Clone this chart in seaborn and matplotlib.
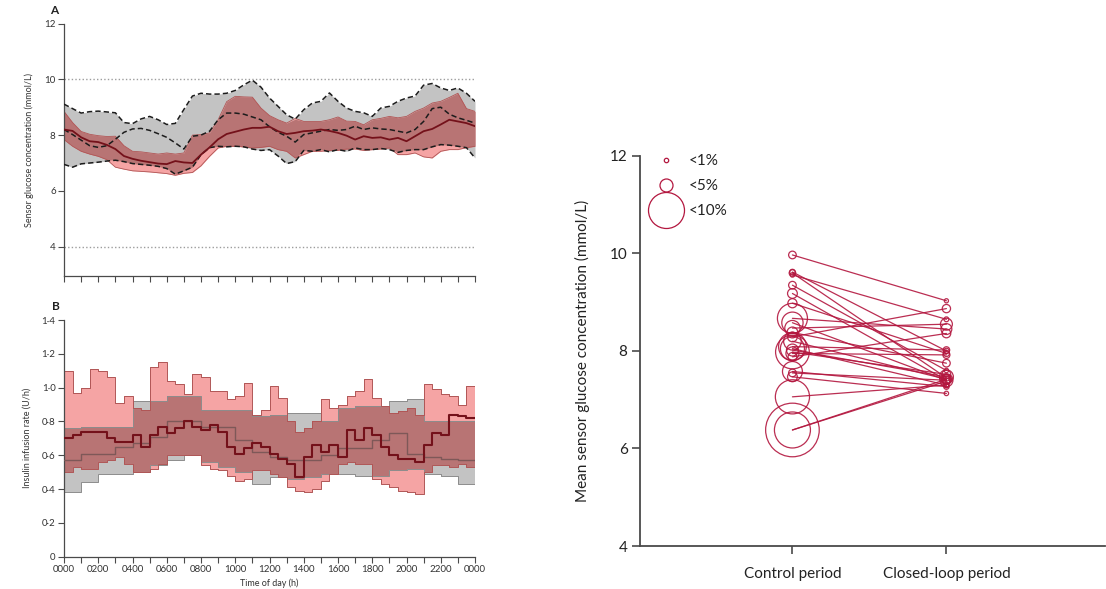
import numpy as np
import pandas as pd
import matplotlib
matplotlib.use("Agg")
import matplotlib.pyplot as plt
from matplotlib.lines import Line2D
import seaborn as sns

sns.set_theme(style="ticks")
plt.rcParams["font.family"] = ["Lato", "DejaVu Sans"]

# ---------------- Panel A: sensor glucose (mmol/L), 30-min grid ----------------
glucose_hours = np.arange(0, 24.5, 0.5)
ctrl_glu_upper = [9.11, 8.95, 8.79, 8.84, 8.86, 8.83, 8.80, 8.45, 8.41, 8.58, 8.67, 8.55, 8.38,
                  8.42, 8.92, 9.40, 9.50, 9.47, 9.47, 9.50, 9.60, 9.80, 9.97, 9.72, 9.33, 9.03,
                  8.73, 8.57, 8.91, 9.15, 9.21, 9.51, 9.21, 8.97, 8.85, 8.80, 8.67, 8.97, 9.03,
                  9.21, 9.33, 9.40, 9.79, 9.85, 9.69, 9.60, 9.69, 9.50, 9.21]
ctrl_glu_lower = [6.95, 6.85, 6.97, 7.00, 7.03, 7.07, 7.10, 7.05, 6.98, 6.95, 6.92, 6.88, 6.80,
                  6.60, 6.72, 6.85, 7.30, 7.55, 7.60, 7.58, 7.60, 7.58, 7.50, 7.45, 7.48, 7.25,
                  6.98, 7.05, 7.45, 7.42, 7.48, 7.40, 7.48, 7.42, 7.54, 7.48, 7.48, 7.52, 7.48,
                  7.38, 7.45, 7.48, 7.48, 7.58, 7.66, 7.64, 7.60, 7.55, 7.18]
ctrl_glu_median = [8.20, 8.02, 7.82, 7.62, 7.56, 7.62, 7.85, 8.10, 8.22, 8.24, 8.17, 8.05, 7.92,
                   7.72, 7.50, 7.96, 8.00, 8.14, 8.55, 8.79, 8.79, 8.75, 8.65, 8.55, 8.30, 8.10,
                   7.96, 7.75, 8.02, 8.08, 8.14, 8.20, 8.17, 8.20, 8.32, 8.20, 8.26, 8.22, 8.20,
                   8.14, 8.08, 8.20, 8.49, 8.95, 9.00, 8.75, 8.62, 8.53, 8.43]
cl_glu_upper = [8.85, 8.45, 8.13, 8.03, 7.98, 7.95, 7.96, 7.62, 7.42, 7.40, 7.36, 7.32, 7.36,
                7.32, 7.36, 8.00, 8.02, 8.08, 8.55, 9.20, 9.39, 9.37, 9.36, 8.97, 8.70, 8.55,
                8.43, 8.60, 8.49, 8.49, 8.49, 8.55, 8.65, 8.50, 8.49, 8.37, 8.55, 8.60, 8.67,
                8.62, 8.67, 8.85, 8.97, 9.15, 9.21, 9.35, 9.50, 8.95, 8.85]
cl_glu_lower = [7.84, 7.60, 7.42, 7.32, 7.24, 7.12, 6.85, 6.78, 6.72, 6.70, 6.68, 6.65, 6.62,
                6.56, 6.63, 6.66, 6.90, 7.24, 7.54, 7.60, 7.60, 7.58, 7.54, 7.56, 7.60, 7.48,
                7.42, 7.18, 7.30, 7.42, 7.42, 7.45, 7.45, 7.50, 7.50, 7.45, 7.48, 7.50, 7.54,
                7.30, 7.30, 7.36, 7.22, 7.18, 7.42, 7.48, 7.48, 7.55, 7.60]
cl_glu_median = [8.20, 8.15, 7.92, 7.78, 7.75, 7.65, 7.50, 7.25, 7.15, 7.08, 7.03, 6.98, 6.96,
                 7.07, 7.02, 7.00, 7.30, 7.56, 7.85, 8.04, 8.12, 8.20, 8.26, 8.26, 8.30, 8.14,
                 8.04, 8.08, 8.14, 8.16, 8.20, 8.15, 8.08, 7.98, 7.84, 7.96, 7.90, 7.92, 7.84,
                 7.90, 7.78, 7.96, 8.14, 8.22, 8.38, 8.55, 8.49, 8.43, 8.32]
target_range = [4, 10]
glucose_ticks = [4, 6, 8, 10, 12]

# ---------------- Panel B: insulin infusion rate (U/h) ----------------
insulin_ctrl_hours = np.arange(0, 24, 1.0)       # hourly pump basal bins
ctrl_ins_upper = [0.76, 0.77, 0.77, 0.77, 0.92, 0.92, 0.95, 0.95, 0.87, 0.87, 0.87, 0.83,
                  0.84, 0.85, 0.85, 0.80, 0.88, 0.89, 0.89, 0.92, 0.93, 0.80, 0.80, 0.80]
ctrl_ins_lower = [0.38, 0.44, 0.49, 0.49, 0.50, 0.54, 0.57, 0.60, 0.56, 0.53, 0.50, 0.43,
                  0.47, 0.46, 0.47, 0.49, 0.49, 0.48, 0.48, 0.51, 0.52, 0.49, 0.48, 0.43]
ctrl_ins_median = [0.57, 0.61, 0.61, 0.65, 0.67, 0.71, 0.80, 0.80, 0.77, 0.77, 0.69, 0.62,
                   0.59, 0.57, 0.57, 0.60, 0.64, 0.64, 0.69, 0.73, 0.61, 0.59, 0.58, 0.57]
insulin_cl_hours = np.arange(0, 24, 0.5)         # 30-min closed-loop bins
cl_ins_upper = [1.10, 0.97, 1.00, 1.11, 1.10, 1.06, 0.91, 0.95, 0.88, 0.87,
                1.12, 1.15, 1.04, 1.02, 0.96, 1.08, 1.06, 0.98, 0.98, 0.93,
                0.95, 1.03, 0.84, 0.87, 1.01, 0.94, 0.80, 0.74, 0.76, 0.80,
                0.93, 0.88, 0.90, 0.95, 0.98, 1.05, 0.94, 0.89, 0.85, 0.86,
                0.88, 0.84, 1.02, 0.99, 0.96, 0.95, 0.90, 1.01]
cl_ins_lower = [0.50, 0.53, 0.52, 0.52, 0.56, 0.57, 0.59, 0.55, 0.50, 0.50,
                0.52, 0.55, 0.60, 0.60, 0.60, 0.60, 0.54, 0.52, 0.51, 0.48,
                0.45, 0.46, 0.51, 0.51, 0.49, 0.47, 0.41, 0.39, 0.38, 0.40,
                0.45, 0.49, 0.55, 0.56, 0.55, 0.55, 0.46, 0.43, 0.41, 0.39,
                0.38, 0.37, 0.50, 0.54, 0.54, 0.53, 0.55, 0.53]
cl_ins_median = [0.70, 0.72, 0.74, 0.74, 0.74, 0.70, 0.68, 0.68, 0.72, 0.65,
                 0.72, 0.77, 0.73, 0.76, 0.80, 0.77, 0.75, 0.78, 0.74, 0.65,
                 0.61, 0.64, 0.67, 0.65, 0.61, 0.58, 0.55, 0.47, 0.59, 0.66,
                 0.62, 0.66, 0.59, 0.75, 0.69, 0.76, 0.72, 0.65, 0.60, 0.58,
                 0.58, 0.56, 0.66, 0.73, 0.72, 0.84, 0.83, 0.82]
insulin_ticks = [0, 0.2, 0.4, 0.6, 0.8, 1.0, 1.2, 1.4]
insulin_tick_labels = ["0", "0·2", "0·4", "0·6", "0·8", "1·0", "1·2", "1·4"]
hour_ticks = list(range(0, 25))
hour_labels = ["0000", "0200", "0400", "0600", "0800", "1000", "1200",
               "1400", "1600", "1800", "2000", "2200", "0000"]

# ---------------- Panel C: mean sensor glucose per participant ----------------
periods = ["Control period", "Closed-loop period"]
mean_glu_control = [9.97, 9.62, 9.60, 9.56, 9.35, 9.18, 8.98, 8.67, 8.58, 8.47, 8.38, 8.29, 8.20,
                    8.09, 8.05, 8.02, 7.98, 7.95, 7.88, 7.58, 7.47, 7.55, 7.06, 6.38, 6.38]
mean_glu_closed = [9.03, 8.00, 7.45, 8.65, 7.60, 7.40, 7.95, 8.45, 7.40, 8.55, 7.75, 8.87, 7.42,
                   8.02, 7.30, 7.47, 7.52, 7.92, 8.36, 7.27, 7.13, 7.40, 7.30, 7.42, 7.38]
hypo_control = [2.5, 1.5, 2.0, 1.0, 2.5, 3.5, 3.2, 8.7, 6.8, 5.5, 4.0, 3.5, 6.0,
                8.2, 7.4, 4.5, 9.5, 5.0, 3.0, 6.5, 3.5, 2.5, 9.6, 10.0, 14.0]
hypo_closed = [0.8, 1.5, 2.0, 1.2, 1.0, 3.0, 1.8, 4.0, 5.0, 4.5, 2.5, 2.8, 3.5,
               2.0, 1.5, 5.2, 3.0, 2.2, 3.0, 1.5, 1.0, 2.5, 1.2, 3.5, 2.0]
legend_levels = [1, 5, 10]
legend_labels = ["<1%", "<5%", "<10%"]

# ---------------- styling ----------------
GREY_FILL = "#c3c3c3"
PINK_FILL = "#f5a4a4"
DARK_FILL = "#b87474"
CL_EDGE = "#b05656"
GREY_EDGE = "#8c8c8c"
MAROON = "#74111a"
CRIMSON = "#b3173f"
AXIS = "#4a4a4a"


def circle_area(pct):
    """Marker area (pt^2) for a percentage of time spent below 3.9 mmol/L."""
    r_px = np.interp(pct, [0, 1, 5, 10, 20], [1.6, 2.2, 6.5, 18, 40])
    diam_pt = 2 * r_px * 72 / 100
    return diam_pt ** 2


fig = plt.figure(figsize=(11.06, 5.89), dpi=100)
W, H = 1106, 589
axA = fig.add_axes([64 / W, 1 - 276 / H, 411 / W, 252.5 / H])
axB = fig.add_axes([64 / W, 1 - 556.7 / H, 411 / W, 236.7 / H])
axC = fig.add_axes([640 / W, 1 - 546 / H, 465 / W, 390 / H])

# ---- Panel A ----
t = np.asarray(glucose_hours)
c_lo, c_hi, c_med = map(np.asarray, (ctrl_glu_lower, ctrl_glu_upper, ctrl_glu_median))
k_lo, k_hi, k_med = map(np.asarray, (cl_glu_lower, cl_glu_upper, cl_glu_median))

for ref in target_range:
    axA.axhline(ref, color="#9d9d9d", lw=1.0, linestyle=(0, (1, 1.6)), zorder=0)
axA.fill_between(t, c_lo, c_hi, color=GREY_FILL, lw=0, zorder=1)
axA.fill_between(t, k_lo, k_hi, color=PINK_FILL, lw=0, zorder=1.1)
ov_lo, ov_hi = np.maximum(c_lo, k_lo), np.minimum(c_hi, k_hi)
axA.fill_between(t, ov_lo, ov_hi, where=ov_hi > ov_lo, interpolate=True,
                 color=DARK_FILL, lw=0, zorder=1.2)
for arr in (k_lo, k_hi):
    sns.lineplot(x=t, y=arr, ax=axA, color=CL_EDGE, lw=0.6, errorbar=None, zorder=2)
for arr in (c_lo, c_hi, c_med):
    sns.lineplot(x=t, y=arr, ax=axA, color="#1c1c1c", lw=1.1, errorbar=None,
                 linestyle=(0, (3.5, 2.0)), zorder=3)
sns.lineplot(x=t, y=k_med, ax=axA, color=MAROON, lw=1.3, errorbar=None, zorder=4)

axA.set_xlim(0, 24)
axA.set_ylim(2.95, 12)
axA.set_yticks(glucose_ticks)
axA.set_xticks(hour_ticks)
axA.set_xticklabels([])
axA.set_ylabel("Sensor glucose concentration (mmol/L)", fontsize=6.5, color="#333333", labelpad=7)
axA.set_xlabel("")

# ---- Panel B ----
edges = np.append(np.asarray(insulin_cl_hours), 24.0)
ext = lambda a: np.append(a, a[-1])
rep = len(insulin_cl_hours) // len(insulin_ctrl_hours)
ci_lo = np.repeat(ctrl_ins_lower, rep)
ci_hi = np.repeat(ctrl_ins_upper, rep)
ci_med = np.repeat(ctrl_ins_median, rep)
ki_lo, ki_hi, ki_med = map(np.asarray, (cl_ins_lower, cl_ins_upper, cl_ins_median))

axB.fill_between(edges, ext(ci_lo), ext(ci_hi), step="post", color=GREY_FILL, lw=0, zorder=1)
axB.fill_between(edges, ext(ki_lo), ext(ki_hi), step="post", color=PINK_FILL, lw=0, zorder=1.1)
bo_lo = np.maximum(ci_lo, ki_lo)
bo_hi = np.maximum(np.minimum(ci_hi, ki_hi), bo_lo)
axB.fill_between(edges, ext(bo_lo), ext(bo_hi), step="post", color=DARK_FILL, lw=0, zorder=1.2)
for arr in (ci_lo, ci_hi):
    sns.lineplot(x=edges, y=ext(arr), ax=axB, color=GREY_EDGE, lw=0.7, errorbar=None,
                 drawstyle="steps-post", zorder=2)
for arr in (ki_lo, ki_hi):
    sns.lineplot(x=edges, y=ext(arr), ax=axB, color=CL_EDGE, lw=0.7, errorbar=None,
                 drawstyle="steps-post", zorder=2.1)
sns.lineplot(x=edges, y=ext(ci_med), ax=axB, color="#7e5858", lw=1.0, errorbar=None,
             drawstyle="steps-post", zorder=3)
sns.lineplot(x=edges, y=ext(ki_med), ax=axB, color=MAROON, lw=1.5, errorbar=None,
             drawstyle="steps-post", zorder=4)

axB.set_xlim(0, 24)
axB.set_ylim(0, 1.4)
axB.set_yticks(insulin_ticks)
axB.set_yticklabels(insulin_tick_labels)
axB.set_xticks(hour_ticks)
axB.set_xticklabels([lab if i % 2 == 0 else "" for i, lab in
                     zip(hour_ticks, np.repeat(hour_labels, 2)[:len(hour_ticks)])])
axB.set_ylabel("Insulin infusion rate (U/h)", fontsize=6.5, color="#333333", labelpad=7)
axB.set_xlabel("Time of day (h)", fontsize=6.5, color="#333333", labelpad=3)

for ax in (axA, axB):
    sns.despine(ax=ax)
    for s in ("left", "bottom"):
        ax.spines[s].set_color(AXIS)
        ax.spines[s].set_linewidth(0.9)
    ax.tick_params(axis="both", length=4, width=0.8, color=AXIS, labelsize=7,
                   labelcolor="#333333", pad=2)
    ax.grid(False)

fig.text(50 / W, 1 - 11 / H, "A", fontsize=8.5, fontweight="bold", color="#222222",
         va="center", ha="left")
fig.text(52 / W, 1 - 307 / H, "B", fontsize=8.5, fontweight="bold", color="#222222",
         va="center", ha="left")

# ---- Panel C ----
n = len(mean_glu_control)
df = pd.DataFrame({
    "patient": list(range(n)) * 2,
    "period": [periods[0]] * n + [periods[1]] * n,
    "pos": [0] * n + [1] * n,
    "glucose": mean_glu_control + mean_glu_closed,
    "hypo": hypo_control + hypo_closed,
})
sns.lineplot(data=df, x="pos", y="glucose", units="patient", estimator=None, sort=False,
             color=CRIMSON, lw=0.9, alpha=0.9, ax=axC, zorder=2)
size_lookup = {v: circle_area(v) for v in np.unique(df["hypo"])}
sns.scatterplot(data=df, x="pos", y="glucose", size="hypo", sizes=size_lookup,
                color=CRIMSON, facecolor="none", edgecolor=CRIMSON, linewidth=0.9,
                alpha=0.9, legend=False, ax=axC, zorder=3)

axC.set_xlim(-0.99, 2.03)
axC.set_ylim(4, 12)
axC.set_yticks(glucose_ticks[:])
axC.set_xticks(range(len(periods)))
axC.set_xticklabels(periods)
axC.set_xlabel("")
axC.set_ylabel("Mean sensor glucose concentration (mmol/L)", fontsize=11, color="#222222",
               labelpad=14)
sns.despine(ax=axC)
for s in ("left", "bottom"):
    axC.spines[s].set_color(AXIS)
    axC.spines[s].set_linewidth(1.3)
axC.tick_params(axis="both", length=6, width=1.2, color=AXIS, labelsize=11,
                labelcolor="#222222", pad=3)
axC.tick_params(axis="x", pad=9)
axC.grid(False)

handles = [Line2D([], [], marker="o", linestyle="none", markersize=np.sqrt(circle_area(p)),
                  markerfacecolor="none", markeredgecolor=CRIMSON, markeredgewidth=0.9)
           for p in legend_levels]
axC.legend(handles, legend_labels, loc="upper left", bbox_to_anchor=(0.036, 1.005),
           frameon=False, fontsize=11, handlelength=1.2, handletextpad=0.9,
           labelspacing=0.72, borderaxespad=0, borderpad=0, labelcolor="#222222")

fig.savefig("out.png", dpi=100)
